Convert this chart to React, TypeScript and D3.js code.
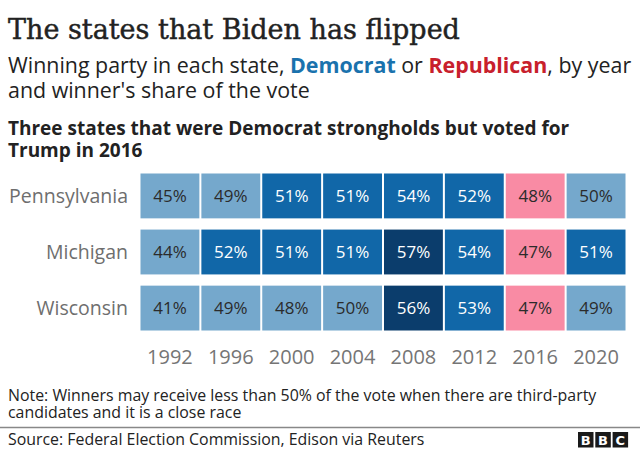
import React from "react";
import * as d3 from "d3";

const years = ["1992", "1996", "2000", "2004", "2008", "2012", "2016", "2020"];
const states = ["Pennsylvania", "Michigan", "Wisconsin"];
const pennsylvania = [45, 49, 51, 51, 54, 52, 48, 50];
const michigan = [44, 52, 51, 51, 57, 54, 47, 51];
const wisconsin = [41, 49, 48, 50, 56, 53, 47, 49];
const winners = ["D", "D", "D", "D", "D", "D", "R", "D"];

const shares = [pennsylvania, michigan, wisconsin];

const SANS = "'Open Sans', 'Noto Sans', sans-serif";
const SERIF = "'DejaVu Serif', serif";

const LIGHT = "#75a8cc";
const MID = "#1167a8";
const DARK = "#0b3d6c";
const PINK = "#f98ba4";

function fillFor(v: number, party: string) {
  if (party === "R") return PINK;
  if (v >= 56) return DARK;
  if (v >= 51) return MID;
  return LIGHT;
}

export default function App() {
  const W = 640, H = 450;
  const x = d3.scaleBand<string>().domain(years).range([140.5, 625.5]).paddingInner(0.033);
  const y = d3.scaleBand<string>().domain(states).range([173.5, 330.5]).paddingInner(0.2);

  return (
    <svg width={W} height={H} style={{ position: "absolute", left: 0, top: 0, background: "#fff" }}>
      <text x={8} y={39} fontFamily={SERIF} fontSize={27} fill="#222" stroke="#222" strokeWidth={0.45}>The states that Biden has flipped</text>
      <text x={8} y={73} fontFamily={SANS} fontSize={21.4} fill="#222">
        Winning party in each state, <tspan fill="#1a72ad" fontWeight={700}>Democrat</tspan> or{" "}
        <tspan fill="#c8202c" fontWeight={700}>Republican</tspan>, by year
      </text>
      <text x={8} y={98} fontFamily={SANS} fontSize={21.4} fill="#222">and winner's share of the vote</text>
      <text x={8} y={135} fontFamily={SANS} fontSize={19} fontWeight={700} fill="#222">Three states that were Democrat strongholds but voted for</text>
      <text x={8} y={157} fontFamily={SANS} fontSize={19} fontWeight={700} fill="#222">Trump in 2016</text>

      {states.map((s, i) => (
        <g key={s}>
          <text x={128} y={(y(s) as number) + y.bandwidth() / 2} dy="0.35em" textAnchor="end"
            fontFamily={SANS} fontSize={19.5} fill="#6e6e6e">{s}</text>
          {years.map((yr, j) => {
            const v = shares[i][j];
            const f = fillFor(v, winners[j]);
            const light = f === LIGHT || f === PINK;
            return (
              <g key={yr}>
                <rect x={x(yr)} y={y(s)} width={x.bandwidth()} height={y.bandwidth()} fill={f} />
                <text x={(x(yr) as number) + x.bandwidth() / 2} y={(y(s) as number) + y.bandwidth() / 2}
                  dy="0.36em" textAnchor="middle" fontFamily={SANS} fontSize={17}
                  fill={light ? "#2b2b2b" : "#fff"}>{v}%</text>
              </g>
            );
          })}
        </g>
      ))}

      {years.map((yr) => (
        <text key={yr} x={(x(yr) as number) + x.bandwidth() / 2} y={364} textAnchor="middle"
          fontFamily={SANS} fontSize={20} fill="#757575">{yr}</text>
      ))}

      <text x={8} y={401} fontFamily={SANS} fontSize={15.9} fill="#222">Note: Winners may receive less than 50% of the vote when there are third-party</text>
      <text x={8} y={418} fontFamily={SANS} fontSize={15.9} fill="#222">candidates and it is a close race</text>
      <line x1={0} x2={640} y1={427.5} y2={427.5} stroke="#888" strokeWidth={1.5} />
      <text x={8} y={445} fontFamily={SANS} fontSize={15.9} fill="#222">Source: Federal Election Commission, Edison via Reuters</text>

      {["B", "B", "C"].map((c, i) => (
        <g key={i}>
          <rect x={578 + i * 17.3} y={432} width={15.5} height={15.5} fill="#1a1a1a" />
          <text x={578 + i * 17.3 + 7.75} y={440} dy="0.36em" textAnchor="middle" fontFamily="'DejaVu Sans', sans-serif"
            fontWeight={700} fontSize={13} fill="#fff">{c}</text>
        </g>
      ))}
    </svg>
  );
}
